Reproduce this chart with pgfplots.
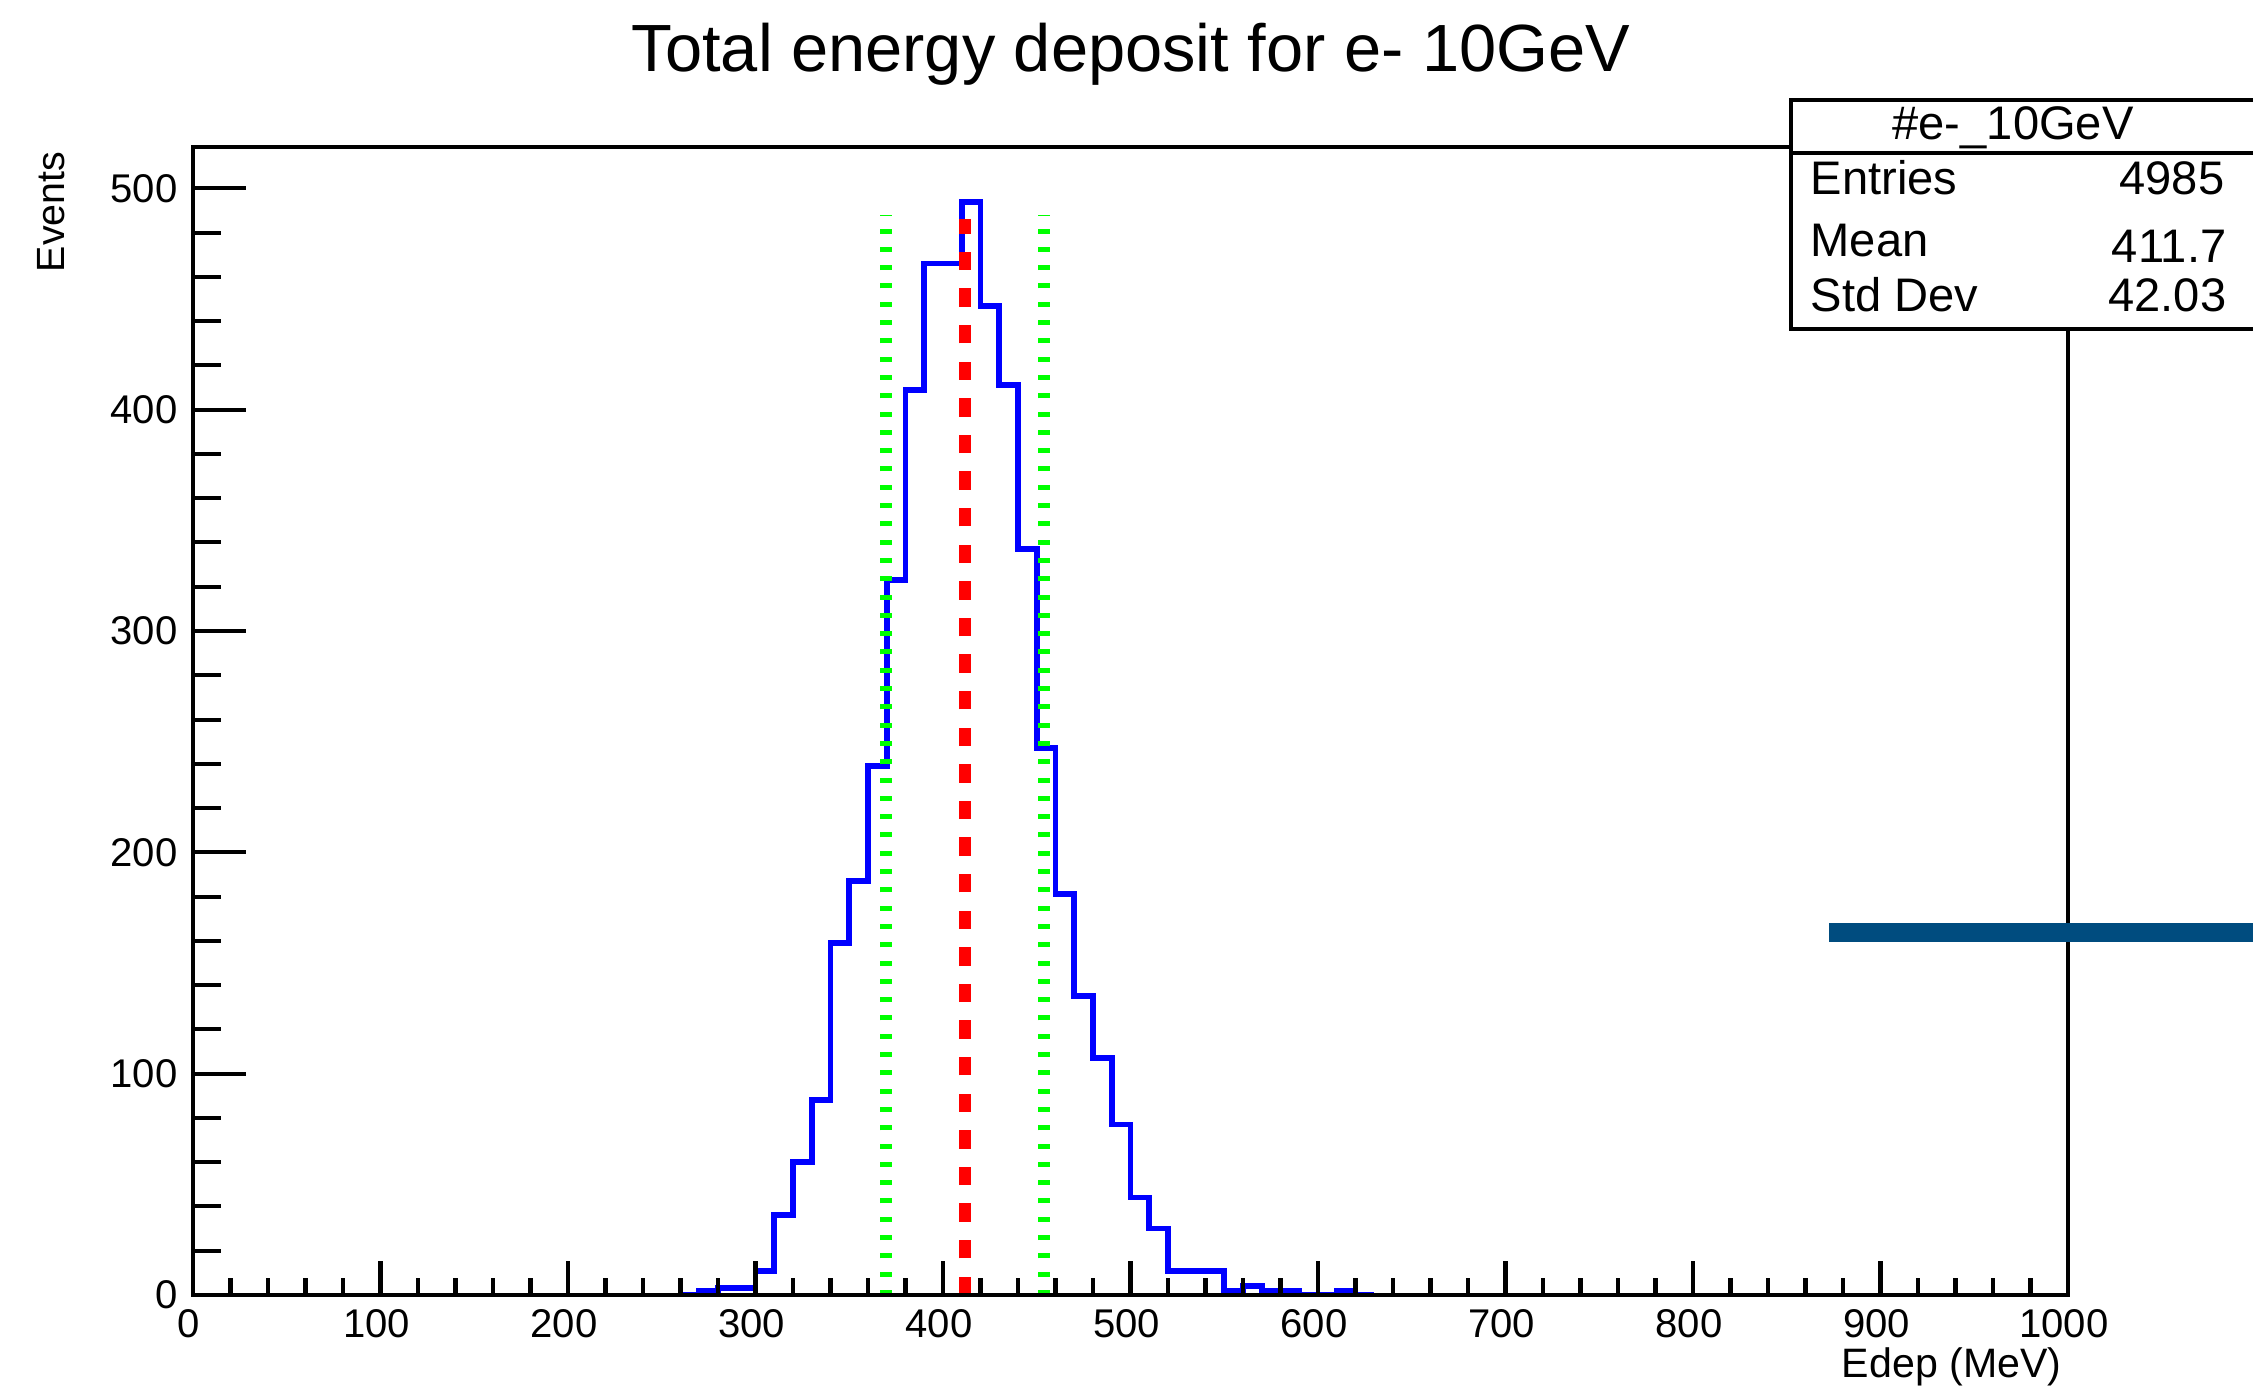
\documentclass[border=0pt]{standalone}
\usepackage{pgfplots}
\pgfplotsset{compat=1.18}
\usepackage{pgfplotstable}
\usepackage{fontspec}
\setmainfont{Liberation Sans}

\definecolor{histblue}{RGB}{0,0,255}
\definecolor{meanred}{RGB}{255,0,0}
\definecolor{sigmagreen}{RGB}{0,255,0}
\definecolor{barblue}{RGB}{0,76,127}

% Energy deposit histogram, 10 MeV bins (left edge, entries)
\pgfplotstableread{
edge count
260 0
270 2
280 3
290 3
300 11
310 36
320 60
330 88
340 159
350 187
360 239
370 323
380 409
390 466
400 466
410 494
420 447
430 411
440 337
450 247
460 181
470 135
480 107
490 77
500 44
510 30
520 11
530 11
540 11
550 2
560 4
570 2
580 2
590 0
600 0
610 2
620 0
630 0
}\edep

\pgfplotsset{
  rootframe/.style={
    scale only axis, width=187.5mm, height=114.8mm,
    at={(19.3mm,9.7mm)}, anchor=south west,
    xmin=0, xmax=1000, ymin=0, ymax=518.7,
    axis line style={line width=1.35pt, black},
    tick style={line width=1.15pt, black},
    tick align=inside,
    tick label style={font=\fontsize{11.4}{13}\selectfont},
    /pgf/number format/assume math mode=true,
    /pgf/number format/1000 sep={},
  }
}

\begin{document}
\begin{tikzpicture}
\useasboundingbox (0,0) rectangle (225.3mm,139.2mm);
\clip (0,0) rectangle (225.3mm,139.2mm);
\fill[white] (0,0) rectangle (225.3mm,139.2mm);

% frame, x ticks and the data
\begin{axis}[rootframe, axis on top,
  xtick={0,100,...,1000}, minor x tick num=4, xtick pos=left,
  ytick=\empty,
  major tick length=3.4mm, minor tick length=1.7mm,
  xticklabel style={anchor=base, yshift=-4.3mm, xshift=-0.4mm}]
  \addplot[const plot, histblue, line width=1.65pt, line join=miter]
    table[x=edge, y=count] {\edep};
  % mean
  \addplot[meanred, line width=3.4pt, dash pattern=on 1.83mm off 1.83mm]
    coordinates {(411.7,0) (411.7,486)};
  % mean -/+ std dev
  \addplot[sigmagreen, line width=3.3pt, dash pattern=on 0.5mm off 1.33mm]
    coordinates {(369.67,0) (369.67,488)};
  \addplot[sigmagreen, line width=3.3pt, dash pattern=on 0.5mm off 1.33mm]
    coordinates {(453.73,0) (453.73,488)};
\end{axis}

% y ticks
\begin{axis}[rootframe,
  xtick=\empty,
  ytick={0,100,...,500}, minor y tick num=4, ytick pos=left,
  major tick length=5.3mm, minor tick length=2.8mm,
  yticklabel style={anchor=east, inner sep=0pt, xshift=-1.5mm}]
\end{axis}

\begin{scope}[x=0.1mm, y=0.1mm]
  % title and axis titles
  \node[anchor=base, inner sep=0pt, font=\fontsize{19}{22}\selectfont]
    at (1131,1320) {Total energy deposit for e- 10GeV};
  \node[anchor=base east, inner sep=0pt, font=\fontsize{11.7}{14}\selectfont]
    at (2062,14) {Edep (MeV)};
  \node[rotate=90, anchor=base east, inner sep=0pt, font=\fontsize{11.2}{14}\selectfont]
    at (64,1241) {Events};

  % statistics box
  \draw[line width=1.14pt, fill=white] (1791,1063) rectangle (2330,1292);
  \draw[line width=1.14pt] (1791,1239) -- (2330,1239);
  \begin{scope}[every node/.style={inner sep=0pt, font=\fontsize{13.4}{16}\selectfont}]
    \node[anchor=base] at (2013,1252) {\#e-\_10GeV};
    \node[anchor=base west] at (1810,1197) {Entries};
    \node[anchor=base east] at (2225,1197) {4985};
    \node[anchor=base west] at (1810,1135) {Mean};
    \node[anchor=base east] at (2227,1129) {411.7};
    \node[anchor=base west] at (1810,1080) {Std Dev};
    \node[anchor=base east] at (2227,1080) {42.03};
  \end{scope}

  % overlay bar at the right edge
  \fill[barblue] (1829,450) rectangle (2300,469);
\end{scope}
\end{tikzpicture}
\end{document}
